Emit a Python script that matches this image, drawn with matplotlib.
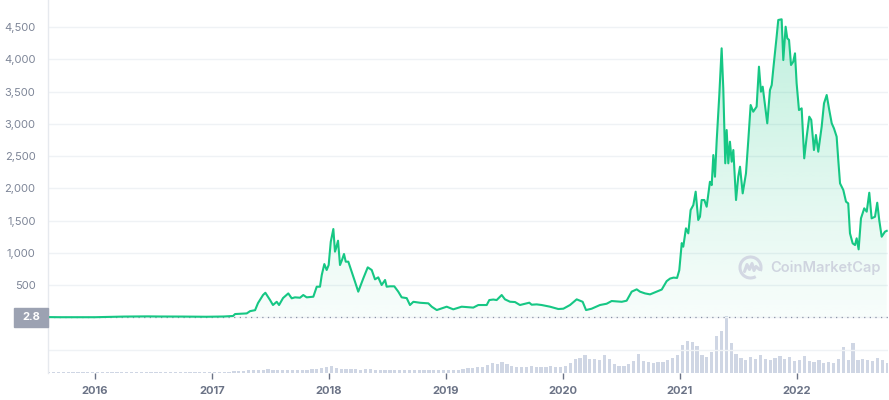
import numpy as np
import matplotlib
matplotlib.use('Agg')
import matplotlib.pyplot as plt
from matplotlib.patches import Rectangle, Arc
from matplotlib.lines import Line2D
from matplotlib.transforms import IdentityTransform
from matplotlib.colors import to_rgb

plt.rcParams['font.family'] = ['Inter', 'DejaVu Sans']

# ---------------- data (dates as decimal years, price in USD) ----------------
price_t = [2015.60, 2015.70, 2015.85, 2016.00, 2016.15, 2016.25, 2016.45, 2016.55,
           2016.75, 2016.95, 2017.10, 2017.18, 2017.197, 2017.297, 2017.325, 2017.368,
           2017.393, 2017.436, 2017.456, 2017.496, 2017.521, 2017.553, 2017.573, 2017.607,
           2017.652, 2017.681, 2017.709, 2017.752, 2017.780, 2017.809, 2017.866, 2017.895,
           2017.923, 2017.938, 2017.960, 2017.980, 2017.997, 2018.015, 2018.037, 2018.051,
           2018.060, 2018.077, 2018.094, 2018.111, 2018.128, 2018.143, 2018.165, 2018.194,
           2018.222, 2018.250, 2018.293, 2018.331, 2018.365, 2018.393, 2018.421, 2018.450,
           2018.479, 2018.493, 2018.521, 2018.558, 2018.592, 2018.621, 2018.664, 2018.692,
           2018.721, 2018.778, 2018.849, 2018.878, 2018.921, 2018.963, 2019.006, 2019.062,
           2019.134, 2019.233, 2019.276, 2019.348, 2019.370, 2019.404, 2019.433, 2019.476,
           2019.504, 2019.547, 2019.590, 2019.632, 2019.712, 2019.732, 2019.775, 2019.818,
           2019.889, 2019.960, 2020.003, 2020.060, 2020.117, 2020.168, 2020.197, 2020.245,
           2020.316, 2020.373, 2020.416, 2020.502, 2020.544, 2020.587, 2020.630, 2020.658,
           2020.701, 2020.744, 2020.801, 2020.844, 2020.886, 2020.915, 2020.945, 2020.975,
           2020.994, 2021.015, 2021.028, 2021.051, 2021.071, 2021.091, 2021.114, 2021.134,
           2021.156, 2021.171, 2021.185, 2021.208, 2021.228, 2021.256, 2021.271, 2021.285,
           2021.299, 2021.314, 2021.336, 2021.356, 2021.370, 2021.387, 2021.399, 2021.413,
           2021.427, 2021.442, 2021.456, 2021.479, 2021.498, 2021.513, 2021.536, 2021.564,
           2021.584, 2021.604, 2021.626, 2021.655, 2021.675, 2021.692, 2021.707, 2021.746,
           2021.769, 2021.784, 2021.798, 2021.812, 2021.826, 2021.840, 2021.869, 2021.883,
           2021.903, 2021.917, 2021.932, 2021.949, 2021.968, 2021.983, 2021.997, 2022.017,
           2022.040, 2022.062, 2022.083, 2022.105, 2022.122, 2022.145, 2022.162, 2022.182,
           2022.211, 2022.231, 2022.254, 2022.276, 2022.297, 2022.316, 2022.339, 2022.353,
           2022.368, 2022.396, 2022.419, 2022.438, 2022.453, 2022.476, 2022.496, 2022.510,
           2022.527, 2022.547, 2022.575, 2022.596, 2022.618, 2022.638, 2022.667, 2022.686,
           2022.703, 2022.724, 2022.752, 2022.767]
price_v = [2.8, 1.0, 0.9, 1.0, 6, 11, 14, 12,
           11, 8, 12, 20, 50, 60, 95, 110,
           220, 345, 380, 267, 190, 240, 190, 298,
           370, 294, 309, 303, 345, 309, 319, 474,
           474, 655, 825, 733, 810, 1171, 1368, 1017,
           1068, 1187, 810, 888, 981, 862, 862, 707,
           552, 397, 603, 774, 733, 588, 619, 500,
           578, 474, 480, 480, 397, 309, 297, 190,
           240, 225, 216, 164, 112, 138, 164, 123,
           164, 150, 190, 190, 267, 275, 267, 345,
           278, 241, 236, 190, 226, 195, 200, 190,
           164, 128, 133, 190, 278, 240, 112, 133,
           190, 210, 252, 240, 257, 397, 433, 397,
           370, 355, 397, 430, 560, 600, 615, 610,
           730, 1150, 1094, 1379, 1301, 1663, 1740, 1947,
           1508, 1559, 1818, 1818, 1714, 2101, 2049, 2515,
           2179, 2748, 3446, 4170, 3550, 2387, 2903, 2387,
           2722, 2412, 2593, 1818, 2179, 2334, 1921, 2231,
           2748, 3291, 3187, 3265, 3885, 3497, 3575, 3007,
           3523, 3600, 3860, 4100, 4350, 4609, 4620, 3988,
           4505, 4325, 4300, 3911, 3962, 4092, 3627, 3213,
           3239, 2464, 2800, 3110, 3060, 2593, 2826, 2567,
           2955, 3317, 3446, 3213, 3007, 2929, 2800, 2438,
           2076, 1973, 1792, 1766, 1301, 1146, 1120, 1224,
           1053, 1534, 1689, 1637, 1931, 1534, 1559, 1776,
           1508, 1249, 1327, 1340]

# semi-monthly trading volume (approx. billions USD), starting Aug 2015
vol_2015 = [1.3, 1.4, 1.2, 1.3, 1.4, 1.3, 1.2, 1.4, 1.3, 1.4]
vol_2016 = [1.4, 1.5, 1.6, 1.8, 2.0, 1.7, 1.6, 1.5, 1.7, 1.6, 1.8, 2.0,
            1.7, 1.5, 1.6, 1.5, 1.4, 1.5, 1.6, 1.4, 1.5, 1.4, 1.5, 1.6]
vol_2017 = [1.6, 1.7, 1.8, 2.0, 2.2, 2.6, 3.0, 3.5, 4.5, 3.5, 4.2, 5.5,
            4.5, 3.8, 3.5, 4.0, 3.6, 3.8, 3.5, 4.2, 5.0, 5.8, 6.5, 8.0]
vol_2018 = [10.0, 7.5, 6.0, 5.6, 5.0, 5.4, 4.8, 5.2, 5.6, 4.6, 4.2, 4.5,
            4.0, 4.4, 3.8, 4.0, 3.6, 4.2, 3.8, 4.6, 4.0, 3.6, 3.8, 4.2]
vol_2019 = [4.4, 4.6, 4.8, 5.0, 6.5, 7.0, 8.0, 9.0, 11.0, 13.5, 12.0, 15.0,
            12.5, 10.0, 9.0, 8.5, 8.0, 9.5, 8.0, 9.0, 8.5, 10.0, 8.0, 9.0]
vol_2020 = [9.8, 14.0, 19.6, 21.0, 25.2, 19.6, 19.6, 18.2, 25.2, 19.6, 12.6, 9.8,
            9.8, 12.6, 16.8, 26.6, 16.8, 15.4, 14.0, 15.4, 15.4, 18.2, 21.0, 25.2]
vol_2021 = [39.2, 44.8, 43.4, 37.8, 25.2, 22.4, 29.4, 51.8, 58.8, 79.8, 42.0, 26.6,
            21.0, 18.2, 22.4, 19.6, 25.2, 19.6, 18.2, 21.0, 23.8, 19.6, 22.4, 16.8]
vol_2022 = [18.2, 23.8, 16.8, 15.4, 18.2, 14.0, 15.4, 14.0, 19.6, 36.4, 18.2, 42.0,
            18.2, 19.6, 18.2, 16.8, 21.0, 18.2, 14.0]

year_ticks = [2016, 2017, 2018, 2019, 2020, 2021, 2022]
price_ticks = [500, 1000, 1500, 2000, 2500, 3000, 3500, 4000, 4500]

# ---------------- style ----------------
GREEN = '#16c784'
GRID = '#eff2f5'
W, H = 889, 400
XMIN, XMAX = 2015.598, 2022.778
YMIN, YMAX = -864, 4919

fig = plt.figure(figsize=(W / 100, H / 100), dpi=100, facecolor='white')
ax = fig.add_axes([48 / W, 27 / H, 840 / W, 373 / H])
ax.patch.set_visible(False)

# volume axis behind
axv = fig.add_axes(ax.get_position(), sharex=ax)
axv.set_zorder(ax.get_zorder() - 1)
axv.set_facecolor('white')
vol = vol_2015 + vol_2016 + vol_2017 + vol_2018 + vol_2019 + vol_2020 + vol_2021 + vol_2022
vol_t = 2015 + 7 / 12 + (np.arange(len(vol)) + 0.5) / 24
axv.bar(vol_t, vol, width=1 / 24 * 0.68, color='#cfd6e4', linewidth=0)
axv.set_ylim(0, 522)
axv.set_xlim(XMIN, XMAX)
axv.axis('off')

# grid lines
for gy in [-500, 0] + price_ticks:
    ax.axhline(gy, color=GRID, lw=1, zorder=0)

# gradient fill under the price line
fill = ax.fill_between(price_t, price_v, 0, facecolor='none', edgecolor='none')
path = fill.get_paths()[0]
levels = np.linspace(0, 4800, 256)
grad = np.zeros((256, 1, 4))
grad[:, 0, :3] = to_rgb(GREEN)
grad[:, 0, 3] = 0.03 + 0.22 * levels / 4300
im = ax.imshow(grad, extent=[XMIN, XMAX, 0, 4800], origin='lower', aspect='auto',
               zorder=1, interpolation='bilinear')
im.set_clip_path(path, transform=ax.transData)

# dotted reference line at first price
ax.axhline(price_v[0], color='#8a92a6', lw=0.9, ls=(0, (1, 3.5)), zorder=2)

# price line
ax.plot(price_t, price_v, color=GREEN, lw=1.5, zorder=3, solid_joinstyle='round')

ax.set_xlim(XMIN, XMAX)
ax.set_ylim(YMIN, YMAX)

ax.set_yticks(price_ticks)
ax.set_yticklabels([f'{v:,}' for v in price_ticks])
ax.tick_params(axis='y', length=0, pad=9, labelsize=8, labelcolor='#7d8597')
ax.set_xticks(year_ticks)
ax.set_xticklabels([str(y) for y in year_ticks], fontweight='bold')
ax.tick_params(axis='x', length=4, width=1, color='#6b7386', pad=5, labelsize=8,
               labelcolor='#6b7386')

for s in ['top', 'right', 'bottom']:
    ax.spines[s].set_visible(False)
ax.spines['left'].set_color('#e6e9ee')
ax.spines['left'].set_linewidth(1)

# first-price label box
yf = (price_v[0] - YMIN) / (YMAX - YMIN)
ax.add_patch(Rectangle((-34 / 840, yf - 9.5 / 373), 34 / 840, 19 / 373,
                       transform=ax.transAxes, clip_on=False, color='#9ca2b2', zorder=5))
ax.text(-17 / 840, yf, f'{price_v[0]}', transform=ax.transAxes, ha='center', va='center',
        color='white', fontweight='bold', fontsize=8, zorder=6)

# watermark
cx, cy = 750.5, H - 267.5
fig.add_artist(Arc((cx, cy), 21, 21, theta1=-20, theta2=300, transform=IdentityTransform(),
                   color='#d3d8e3', lw=2.2))
mx = [cx - 6, cx - 3.5, cx - 1, cx + 1.5, cx + 3.5, cx + 5.5, cx + 9]
my = [cy - 4, cy + 3, cy - 2, cy + 4, cy - 3, cy + 1, cy - 2]
fig.add_artist(Line2D(mx, my, transform=IdentityTransform(), color='#d3d8e3', lw=2.2,
                      solid_joinstyle='round', solid_capstyle='round'))
fig.text(770 / W, 1 - 267.5 / H, 'CoinMarketCap', ha='left', va='center', fontsize=10.5,
         color='#cfd4df', fontweight='semibold')

fig.savefig('out.png', dpi=100, facecolor='white')
